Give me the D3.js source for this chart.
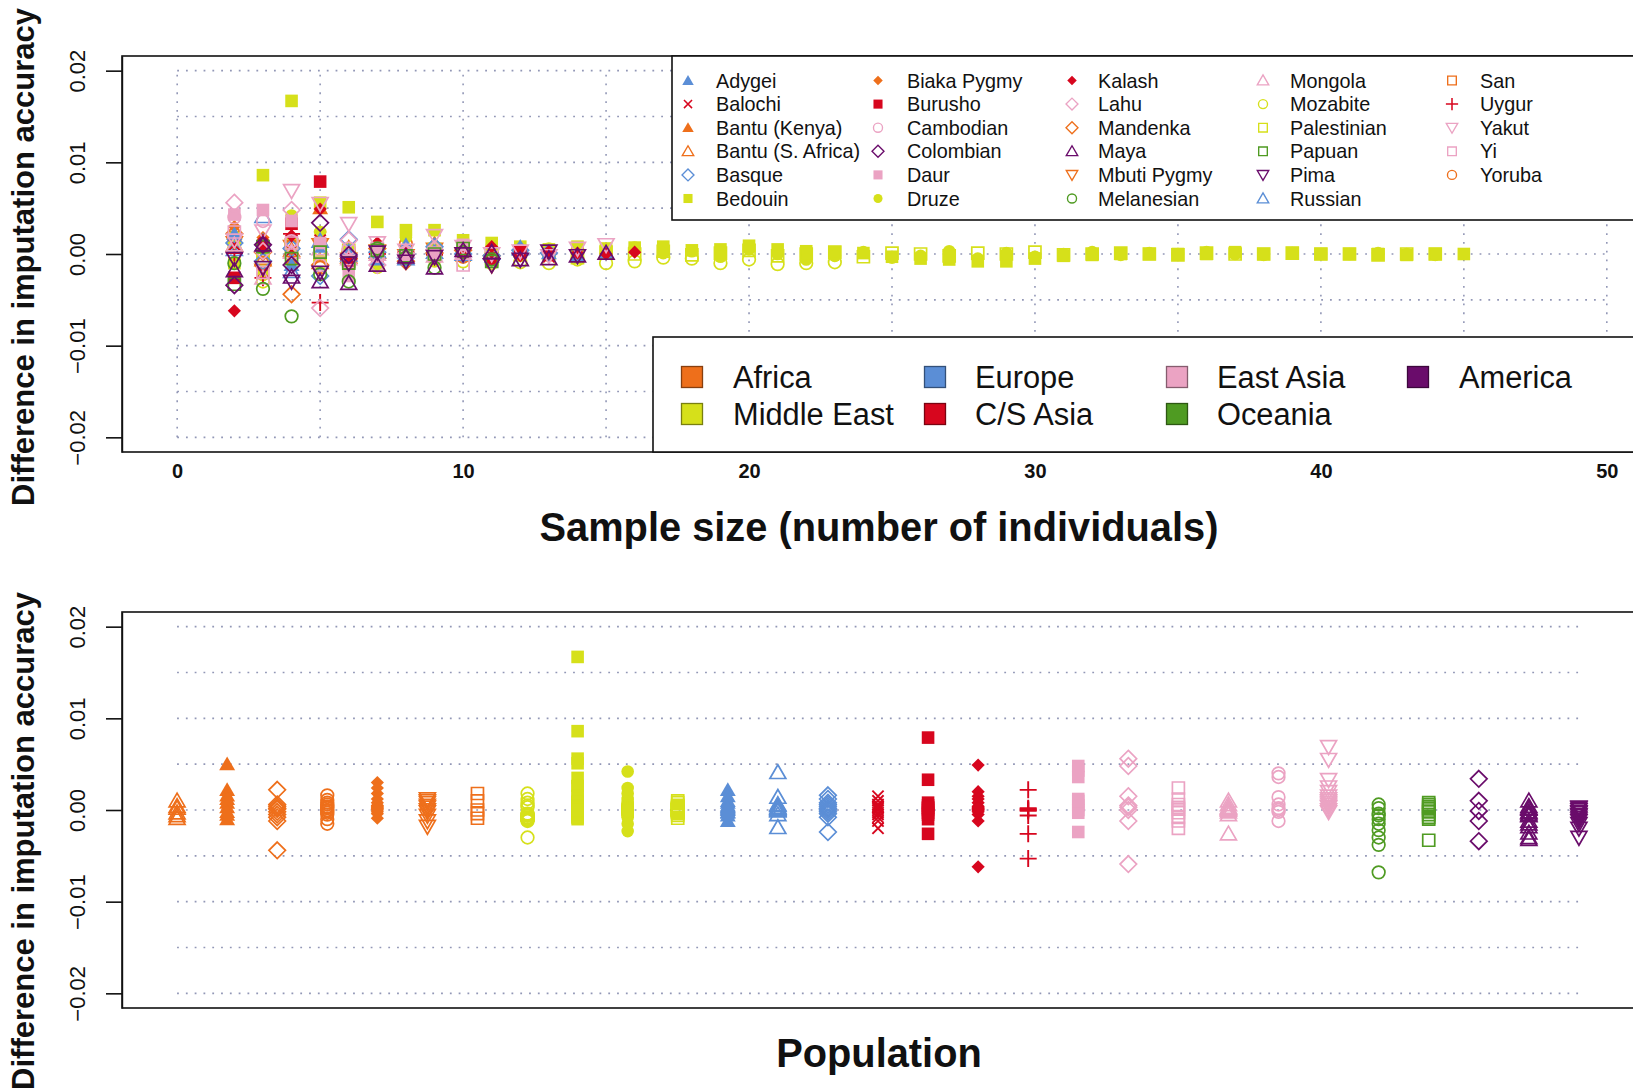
<!DOCTYPE html>
<html><head><meta charset="utf-8">
<script src="https://cdn.jsdelivr.net/npm/d3@7"></script>
<style>
body{margin:0;background:#fff}
svg{display:block}
text{font-family:"Liberation Sans",Arial,Helvetica,sans-serif}
</style>
</head><body>
<svg id="c" width="1633" height="1090"></svg>
<script>
// ---------------- data ----------------
const regions = ["Africa", "Middle East", "Europe", "C/S Asia", "East Asia", "Oceania", "America"];
const regionColors = ["#EE6F1B", "#D6E01A", "#5B8ED6", "#D7061E", "#EBA3C3", "#4F9B22", "#6A0C6B"];

// populations in the order of the lower panel
const populations = ["Bantu (S. Africa)", "Bantu (Kenya)", "Mandenka", "Yoruba", "Biaka Pygmy", "Mbuti Pygmy", "San",
  "Mozabite", "Bedouin", "Druze", "Palestinian",
  "Adygei", "Russian", "Basque",
  "Balochi", "Burusho", "Kalash", "Uygur",
  "Daur", "Lahu", "Yi", "Mongola", "Cambodian", "Yakut",
  "Melanesian", "Papuan",
  "Colombian", "Maya", "Pima"];
const popRegion = [0,0,0,0,0,0,0, 1,1,1,1, 2,2,2, 3,3,3,3, 4,4,4,4,4,4, 5,5, 6,6,6];
// o open circle, O filled circle, s open square, S filled square, t open triangle, T filled triangle,
// v open down-triangle, d open diamond, D filled diamond, x cross, + plus
const popSymbol = ["t","T","d","o","D","v","s", "o","S","O","s", "T","t","d", "x","S","D","+", "S","d","s","t","o","v", "o","s", "d","t","v"];

const FIRST_SIZE = 2;          // first sample size of every series
const VALUE_UNIT = 0.001;      // series values are given in thousandths
const popValues = [
  [1.0, -0.6, 0.4, -0.9, -0.3, 0.2],                                        // Bantu (S. Africa)
  [2.2, 1.6, -0.5, 5.0, 0.8, -1.0, 0.3, 1.2, -0.2],                          // Bantu (Kenya)
  [2.2, 0.2, -4.4, -1.2, -0.5, 0.6, -0.8, 0.1, 0.4, -0.2],                   // Mandenka
  [1.6, -1.0, 0.8, -1.5, 0.4, -0.5, 1.1, 0.0, -0.3, 0.2, 0.6, -0.1, 0.3],    // Yoruba
  [3.0, 1.8, -0.9, 2.4, 0.5, 1.2, -0.4, 0.3, 0.8, 0.0, 0.2, -0.2, 0.4, 0.1], // Biaka Pygmy
  [1.2, -1.8, 0.8, 1.0, -0.6, 0.3, -0.2, 0.5, 0.0, -1.2],                    // Mbuti Pygmy
  [1.8, -0.9, 1.0, 0.0, -0.4],                                               // San
  [1.8, -3.0, 1.2, 0.5, -1.2, 0.8, -0.5, 0.3, -0.8, -1.0, -0.9, -1.0, -0.6, -1.0, -0.8, -0.4,
   -0.5, -1.0, -0.6, -1.1, -1.0, -0.9],                                      // Mozabite
  [-1.0, 8.6, 16.7, 5.6, 5.1, 3.5, 2.6, 2.6, 1.5, 1.2, 0.8, 0.5, 0.8, 0.6, 0.7, 0.8, 0.4, 0.5,
   0.9, 0.5, 0.3, 0.2, 0.1, -0.3, -0.5, -0.6, -0.8, -0.8, -0.5, -0.2, -0.1, 0.0, 0.0, 0.0, 0.0,
   0.2, 0.0, 0.1, 0.0, 0.0, 0.0, -0.1, 0.0, 0.0],                            // Bedouin
  [1.2, -2.3, 4.2, 2.4, 0.5, -1.5, 1.8, -0.8, 0.3, 0.9, -0.2, 0.6, -0.4, 0.2, 0.7, 0.1, 0.3,
   -0.3, 0.5, 0.0, -0.6, -0.2, 0.2, -0.4, -0.2, 0.3, -0.5, 0.1, -0.3, 0.0, 0.2, -0.1, 0.1, 0.0,
   0.2, 0.0, -0.1, 0.1, 0.0, 0.0, 0.1, 0.0, -0.1],                           // Druze
  [0.8, -0.6, 1.0, -0.9, 0.4, 0.2, -0.3, 0.5, 0.0, -0.2, 0.3, 0.1, -0.4, 0.2, 0.0, 0.3, -0.1,
   0.1, 0.4, -0.2, 0.0, 0.2, -0.3, 0.1, 0.0, -0.2, 0.1, 0.0, 0.2, -0.1, 0.0, 0.1, 0.0, -0.1,
   0.1, 0.0, 0.0, 0.1, 0.0, 0.0, -0.1, 0.0, 0.0],                            // Palestinian
  [2.2, 1.5, -1.2, 0.8, 0.4, -0.6, 1.0, 0.0, 0.3, -0.3, 0.5, 0.1, -0.2, 0.2], // Adygei
  [0.5, 4.1, -1.9, 1.4, -0.1, 0.3, -0.5, 0.2, 0.0, 0.1, 0.6],                 // Russian
  [1.2, -0.8, 0.6, -2.4, 1.6, 0.2, -0.4, 0.8, 0.0, -0.2, 0.4, 0.1],          // Basque
  [1.0, -2.0, 0.4, 1.5, -1.2, 0.6, -0.5, 0.2, 0.0, -0.8, 0.3, -0.3],         // Balochi
  [-2.6, 0.8, 3.3, 7.9, -1.0, 0.5, -0.3, 0.0, 0.3, -0.5, 0.2],               // Burusho
  [-6.2, 1.5, 2.0, 4.9, -1.2, 1.2, 0.4, -0.5, 0.0, 0.8, -0.2, 0.3, 0.1, 0.0, 0.2], // Kalash
  [0.1, -2.6, 2.2, -5.3, -0.6, 0.0, 0.2, -0.1],                              // Uygur
  [4.3, 4.8, 3.6, 1.2, -2.4, 0.5, -0.3, 0.0, 1.0],                           // Daur
  [5.6, 0.3, 4.8, -5.9, 1.5, -1.2, 0.0, 0.5],                                // Lahu
  [2.4, -2.0, 1.2, 0.3, -0.8, 0.6, -0.3, 0.1, -1.2],                         // Yi
  [1.0, -2.6, 0.2, 0.6, -0.5, 0.0, 0.3, -0.2, 0.1],                          // Mongola
  [4.0, 3.6, 1.4, -1.2, 0.6, -0.2, 0.2, 0.0],                                // Cambodian
  [1.5, 2.5, 6.9, 5.5, 3.3, 1.2, 0.4, 2.0, 0.8, 0.0, 0.3, -0.2, 0.6, 1.0],   // Yakut
  [-1.0, -3.8, -6.8, -2.2, -3.0, 0.6, -0.4, -1.5, 0.2, -0.6],                // Melanesian
  [-3.3, 0.8, -0.5, 0.2, -1.0, 0.4, -0.2, 0.0, 0.6, -0.8],                   // Papuan
  [-3.4, 1.0, -1.2, 3.4, -0.1],                                              // Colombian
  [-1.8, 1.0, -2.5, -3.0, -3.2, -1.2, -0.3, -1.5, 0.4, 0.2, -0.6, -0.5, -0.2, 0.1], // Maya
  [-0.5, -1.5, -3.0, -2.0, -1.0, 0.2, -0.8, -0.3, 0.0, -1.2, -0.6, 0.3, -0.2]       // Pima
];

const yTicks = [-0.02, -0.01, 0, 0.01, 0.02];
const yTickLabels = ["\u22120.02", "\u22120.01", "0.00", "0.01", "0.02"];
const xTicks = [0, 10, 20, 30, 40, 50];
const xTickLabels = ["0", "10", "20", "30", "40", "50"];
const yTitle = "Difference in imputation accuracy";
const xTitleTop = "Sample size (number of individuals)";
const xTitleBottom = "Population";

// ---------------- drawing ----------------
const svg = d3.select("#c");
const FONT = '"Liberation Sans",Arial,Helvetica,sans-serif';
const GRID = "#9297b6";

const yTop = d3.scaleLinear().domain([-0.0216, 0.0216]).range([452, 56]);
const yBot = d3.scaleLinear().domain([-0.0216, 0.0216]).range([1008, 612]);
const xTop = d3.scaleLinear().domain([-2, 52]).range([120, 1664]);
const xBot = d3.scaleLinear().domain([-0.12, 30.12]).range([121, 1635]);

const points = populations.flatMap((p, i) =>
  popValues[i].map((v, j) => ({pop: i, size: FIRST_SIZE + j, value: v * VALUE_UNIT})));

const FILLED = new Set(["O", "S", "T", "D"]);
function shapePath(kind, s) {
  const k = kind.toLowerCase();
  if (k === "o") { const r = 6.3 * s; return `M${r},0A${r},${r} 0 1,1 ${-r},0A${r},${r} 0 1,1 ${r},0Z`; }
  if (k === "s") { const h = (kind === "S" ? 6.3 : 6) * s; return `M${-h},${-h}H${h}V${h}H${-h}Z`; }
  if (k === "t") { const R = 9.2 * s, a = R * Math.sin(Math.PI / 3), b = R / 2;
    return `M0,${-R + 1.5 * s}L${a},${b + 1.5 * s}L${-a},${b + 1.5 * s}Z`; }
  if (k === "v") { const R = 9.2 * s, a = R * Math.sin(Math.PI / 3), b = R / 2;
    return `M0,${R - 1.5 * s}L${a},${-b - 1.5 * s}L${-a},${-b - 1.5 * s}Z`; }
  if (kind === "d") { const d = 8.3 * s; return `M0,${-d}L${d},0L0,${d}L${-d},0Z`; }
  if (kind === "D") { const d = 6.6 * s; return `M0,${-d}L${d},0L0,${d}L${-d},0Z`; }
  if (k === "x") { const a = 5.6 * s; return `M${-a},${-a}L${a},${a}M${-a},${a}L${a},${-a}`; }
  if (k === "+") { const a = 8.5 * s; return `M${-a},0H${a}M0,${-a}V${a}`; }
  return "";
}
function styleMark(sel, s) {
  sel.attr("d", d => shapePath(popSymbol[d.pop], s))
    .attr("fill", d => FILLED.has(popSymbol[d.pop]) ? regionColors[popRegion[d.pop]] : "none")
    .attr("stroke", d => FILLED.has(popSymbol[d.pop]) ? "none" : regionColors[popRegion[d.pop]])
    .attr("stroke-width", d => (popSymbol[d.pop] === "x" || popSymbol[d.pop] === "+") ? 1.9 * Math.max(s, 0.8) : 1.7 * Math.max(s, 0.8));
}

// ----- top panel -----
const gTop = svg.append("g");
const gridTop = gTop.append("g").attr("stroke", GRID).attr("stroke-width", 1.6).attr("stroke-dasharray", "1.8,7");
d3.range(0, 51, 5).forEach(v => gridTop.append("line")
  .attr("x1", xTop(v)).attr("x2", xTop(v)).attr("y1", yTop(-0.02)).attr("y2", yTop(0.02)));
d3.range(-0.02, 0.02001, 0.005).forEach(v => gridTop.append("line")
  .attr("x1", xTop(0)).attr("x2", xTop(50)).attr("y1", yTop(v)).attr("y2", yTop(v)));

gTop.append("g").selectAll("path").data(points).join("path")
  .attr("transform", d => `translate(${xTop(d.size)},${yTop(d.value)})`)
  .call(styleMark, 1);

gTop.append("rect").attr("x", 122).attr("y", 56).attr("width", 1600).attr("height", 396)
  .attr("fill", "none").attr("stroke", "#111").attr("stroke-width", 1.6);

// population legend
const leg1 = gTop.append("g");
leg1.append("rect").attr("x", 672).attr("y", 56).attr("width", 1000).attr("height", 164)
  .attr("fill", "#fff").attr("stroke", "#111").attr("stroke-width", 1.6);
const legOrder = d3.range(populations.length).sort((a, b) => d3.ascending(populations[a], populations[b]));
const colSym = [688, 878, 1072, 1263, 1452], colTxt = [716, 907, 1098, 1290, 1480];
legOrder.forEach((pi, k) => {
  const c = Math.floor(k / 6), r = k % 6, y = 80.5 + r * 23.6;
  leg1.append("path").datum({pop: pi}).attr("transform", `translate(${colSym[c]},${y})`).call(styleMark, 0.72);
  leg1.append("text").attr("x", colTxt[c]).attr("y", y).attr("dy", "0.36em")
    .attr("font-size", 19.8).attr("fill", "#111").text(populations[pi]);
});

// region legend
const leg2 = gTop.append("g");
leg2.append("rect").attr("x", 653).attr("y", 337).attr("width", 1000).attr("height", 115)
  .attr("fill", "#fff").attr("stroke", "#111").attr("stroke-width", 1.6);
const rSq = [692, 935, 1177, 1418], rTx = [733, 975, 1217, 1459], rRow = [377, 414];
regions.forEach((name, k) => {
  const c = Math.floor(k / 2), r = k % 2;
  leg2.append("rect").attr("x", rSq[c] - 10.5).attr("y", rRow[r] - 10.5).attr("width", 21).attr("height", 21)
    .attr("fill", regionColors[k]).attr("stroke", d3.color(regionColors[k]).darker(1.6)).attr("stroke-width", 1.3);
  leg2.append("text").attr("x", rTx[c]).attr("y", rRow[r]).attr("dy", "0.36em")
    .attr("font-size", 30.8).attr("fill", "#111").text(name);
});

// axes top
const yAxisTop = gTop.append("g").attr("transform", "translate(122,0)")
  .call(d3.axisLeft(yTop).tickValues(yTicks).tickFormat((d, i) => yTickLabels[i]).tickSize(16).tickSizeOuter(0));
const xAxisTop = gTop.append("g").attr("transform", "translate(0,452)")
  .call(d3.axisBottom(xTop).tickValues(xTicks).tickFormat((d, i) => xTickLabels[i]).tickSize(0).tickPadding(12));
xAxisTop.select(".domain").remove();
xAxisTop.selectAll("text").attr("font-size", 20).attr("font-weight", "bold").attr("fill", "#111").attr("font-family", FONT);

gTop.append("text").attr("transform", "translate(34,257) rotate(-90)").attr("text-anchor", "middle")
  .attr("font-size", 31).attr("font-weight", "bold").attr("fill", "#111").text(yTitle);
gTop.append("text").attr("x", 879).attr("y", 541).attr("text-anchor", "middle")
  .attr("font-size", 39.8).attr("font-weight", "bold").attr("fill", "#111").text(xTitleTop);

// ----- bottom panel -----
const gBot = svg.append("g");
const gridBot = gBot.append("g").attr("stroke", GRID).attr("stroke-width", 1.6).attr("stroke-dasharray", "1.8,7");
d3.range(-0.02, 0.02001, 0.005).forEach(v => gridBot.append("line")
  .attr("x1", xBot(1)).attr("x2", xBot(populations.length)).attr("y1", yBot(v)).attr("y2", yBot(v)));

gBot.append("g").selectAll("path").data(points).join("path")
  .attr("transform", d => `translate(${xBot(d.pop + 1)},${yBot(d.value)})`)
  .call(styleMark, 1);

gBot.append("rect").attr("x", 122).attr("y", 612).attr("width", 1600).attr("height", 396)
  .attr("fill", "none").attr("stroke", "#111").attr("stroke-width", 1.6);

const yAxisBot = gBot.append("g").attr("transform", "translate(122,0)")
  .call(d3.axisLeft(yBot).tickValues(yTicks).tickFormat((d, i) => yTickLabels[i]).tickSize(16).tickSizeOuter(0));

[yAxisTop, yAxisBot].forEach(ax => {
  ax.select(".domain").attr("stroke", "#111").attr("stroke-width", 1.4);
  ax.selectAll(".tick line").attr("stroke", "#111").attr("stroke-width", 1.6);
  ax.selectAll("text").attr("x", null).attr("dy", null).attr("y", 0)
    .attr("transform", "translate(-37,0) rotate(-90)").attr("text-anchor", "middle")
    .attr("font-size", 22).attr("fill", "#111").attr("font-family", FONT);
});

gBot.append("text").attr("transform", "translate(34,841) rotate(-90)").attr("text-anchor", "middle")
  .attr("font-size", 31).attr("font-weight", "bold").attr("fill", "#111").text(yTitle);
gBot.append("text").attr("x", 879).attr("y", 1067).attr("text-anchor", "middle")
  .attr("font-size", 39.8).attr("font-weight", "bold").attr("fill", "#111").text(xTitleBottom);
</script>
</body></html>
